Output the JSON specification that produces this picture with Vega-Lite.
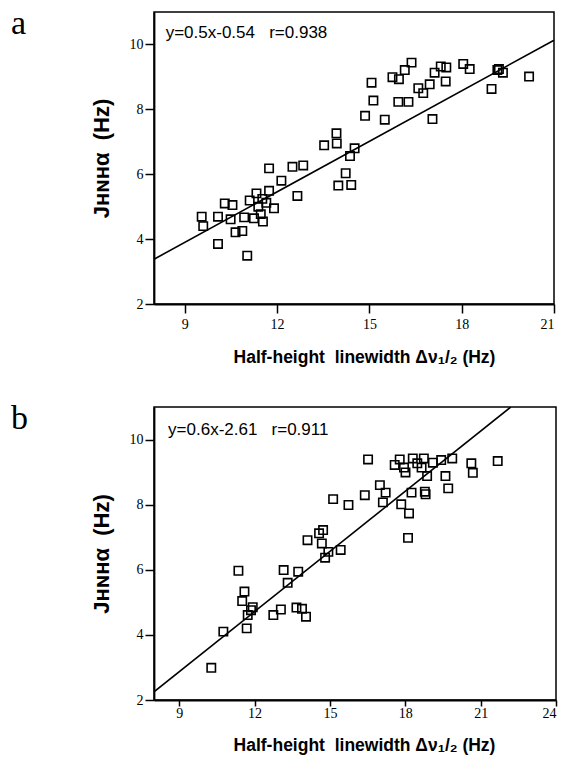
{
  "$schema": "https://vega.github.io/schema/vega-lite/v6.json",
  "background": "white",
  "padding": {"left": 10, "top": 6, "right": 5, "bottom": 0},
  "spacing": 34,
  "config": {
    "view": {"stroke": "black", "strokeWidth": 1.5},
    "axis": {
      "grid": false, "domainColor": "black", "domainWidth": 1.8,
      "tickColor": "black", "tickWidth": 1.5, "tickSize": 9,
      "labelFont": "Liberation Serif", "labelFontSize": 14, "labelColor": "black",
      "titleFont": "Liberation Sans", "titleFontWeight": "bold", "titleColor": "black"
    },
    "axisX": {"labelPadding": 4, "titleFontSize": 17.5, "titlePadding": 17},
    "axisY": {"labelPadding": 2, "titleFontSize": 22, "titlePadding": 16},
    "title": {
      "anchor": "start", "frame": "bounds", "font": "Liberation Serif",
      "fontSize": 34, "fontWeight": "normal", "color": "black",
      "offset": 0, "baseline": "alphabetic", "dx": -79, "dy": 33
    }
  },
  "datasets": {
    "a": [
      {"w": 9.55, "j": 4.69}, {"w": 9.60, "j": 4.40}, {"w": 10.08, "j": 4.69}, {"w": 10.08, "j": 3.85},
      {"w": 10.30, "j": 5.10}, {"w": 10.55, "j": 5.05}, {"w": 10.49, "j": 4.61}, {"w": 10.65, "j": 4.21},
      {"w": 10.87, "j": 4.25}, {"w": 10.93, "j": 4.67}, {"w": 11.03, "j": 3.49}, {"w": 11.11, "j": 5.19},
      {"w": 11.25, "j": 4.64}, {"w": 11.33, "j": 5.41}, {"w": 11.39, "j": 5.00}, {"w": 11.47, "j": 4.77},
      {"w": 11.54, "j": 4.54}, {"w": 11.52, "j": 5.24}, {"w": 11.65, "j": 5.12}, {"w": 11.74, "j": 5.49},
      {"w": 11.74, "j": 6.18}, {"w": 11.90, "j": 4.95}, {"w": 12.14, "j": 5.80}, {"w": 12.50, "j": 6.23},
      {"w": 12.66, "j": 5.33}, {"w": 12.85, "j": 6.27}, {"w": 13.53, "j": 6.89}, {"w": 13.93, "j": 7.26},
      {"w": 13.94, "j": 6.95}, {"w": 13.99, "j": 5.65}, {"w": 14.23, "j": 6.03}, {"w": 14.37, "j": 6.56},
      {"w": 14.41, "j": 5.67}, {"w": 14.52, "j": 6.80}, {"w": 14.86, "j": 7.80}, {"w": 15.07, "j": 8.82},
      {"w": 15.13, "j": 8.27}, {"w": 15.50, "j": 7.68}, {"w": 15.75, "j": 8.99}, {"w": 15.96, "j": 8.93},
      {"w": 15.94, "j": 8.23}, {"w": 16.27, "j": 8.23}, {"w": 16.15, "j": 9.21}, {"w": 16.37, "j": 9.44},
      {"w": 16.59, "j": 8.65}, {"w": 16.75, "j": 8.50}, {"w": 16.96, "j": 8.77}, {"w": 17.05, "j": 7.70},
      {"w": 17.12, "j": 9.13}, {"w": 17.32, "j": 9.32}, {"w": 17.50, "j": 9.29}, {"w": 17.48, "j": 8.86},
      {"w": 18.05, "j": 9.40}, {"w": 18.26, "j": 9.24}, {"w": 18.97, "j": 8.63}, {"w": 19.16, "j": 9.21},
      {"w": 19.21, "j": 9.24}, {"w": 19.34, "j": 9.13}, {"w": 20.19, "j": 9.01}
    ],
    "b": [
      {"w": 10.28, "j": 2.99}, {"w": 10.76, "j": 4.10}, {"w": 11.36, "j": 5.97}, {"w": 11.60, "j": 5.33},
      {"w": 11.51, "j": 5.04}, {"w": 11.73, "j": 4.61}, {"w": 11.69, "j": 4.20}, {"w": 11.93, "j": 4.85},
      {"w": 11.86, "j": 4.76}, {"w": 12.75, "j": 4.61}, {"w": 13.05, "j": 4.78}, {"w": 13.16, "j": 5.99},
      {"w": 13.32, "j": 5.60}, {"w": 13.74, "j": 5.94}, {"w": 13.67, "j": 4.84}, {"w": 13.89, "j": 4.80},
      {"w": 14.05, "j": 4.56}, {"w": 14.11, "j": 6.91}, {"w": 14.57, "j": 7.12}, {"w": 14.73, "j": 7.22},
      {"w": 14.68, "j": 6.81}, {"w": 14.81, "j": 6.37}, {"w": 14.94, "j": 6.55}, {"w": 15.43, "j": 6.61},
      {"w": 15.13, "j": 8.17}, {"w": 15.74, "j": 7.99}, {"w": 16.39, "j": 8.29}, {"w": 16.52, "j": 9.39},
      {"w": 16.99, "j": 8.60}, {"w": 17.22, "j": 8.37}, {"w": 17.11, "j": 8.07}, {"w": 17.58, "j": 9.22},
      {"w": 17.78, "j": 9.39}, {"w": 17.95, "j": 9.14}, {"w": 18.01, "j": 8.99}, {"w": 17.84, "j": 8.01},
      {"w": 18.15, "j": 7.73}, {"w": 18.11, "j": 6.98}, {"w": 18.25, "j": 8.37}, {"w": 18.30, "j": 9.42},
      {"w": 18.48, "j": 9.27}, {"w": 18.74, "j": 9.42}, {"w": 18.65, "j": 9.14}, {"w": 18.87, "j": 8.88},
      {"w": 18.81, "j": 8.32}, {"w": 18.78, "j": 8.40}, {"w": 19.10, "j": 9.29}, {"w": 19.43, "j": 9.37},
      {"w": 19.87, "j": 9.42}, {"w": 19.60, "j": 8.88}, {"w": 19.71, "j": 8.50}, {"w": 20.63, "j": 9.27},
      {"w": 20.69, "j": 8.98}, {"w": 21.68, "j": 9.34}
    ],
    "la": [{"w": 8, "j": 3.38}, {"w": 21, "j": 10.13}],
    "lb": [{"w": 8, "j": 2.25}, {"w": 22.2, "j": 11.0}],
    "ta": [{"w": 8.38, "j": 10.2, "label": "y=0.5x-0.54\u00a0\u00a0 r=0.938"}],
    "tb": [{"w": 8.56, "j": 10.14, "label": "y=0.6x-2.61\u00a0\u00a0 r=0.911"}]
  },
  "vconcat": [
    {
      "width": 400, "height": 292,
      "title": {"text": "a"},
      "layer": [
        {
          "data": {"name": "a"},
          "mark": {"type": "point", "shape": "square", "filled": false, "stroke": "black", "strokeWidth": 1.6, "size": 70, "opacity": 1},
          "encoding": {
            "x": {"field": "w", "type": "quantitative", "scale": {"domain": [8, 21], "nice": false, "zero": false},
                  "axis": {"values": [9, 12, 15, 18, 21], "title": "Half-height\u00a0\u00a0linewidth Δν₁/₂ (Hz)", "titleX": 210}},
            "y": {"field": "j", "type": "quantitative", "scale": {"domain": [2, 11], "nice": false, "zero": false},
                  "axis": {"values": [2, 4, 6, 8, 10], "title": "Jʜɴʜα\u00a0\u00a0(Hz)"}}
          }
        },
        {
          "data": {"name": "la"},
          "mark": {"type": "line", "color": "black", "strokeWidth": 1.6},
          "encoding": {"x": {"field": "w", "type": "quantitative"}, "y": {"field": "j", "type": "quantitative"}}
        },
        {
          "data": {"name": "ta"},
          "mark": {"type": "text", "align": "left", "baseline": "alphabetic", "font": "Liberation Sans", "fontSize": 17, "color": "black"},
          "encoding": {"x": {"field": "w", "type": "quantitative"}, "y": {"field": "j", "type": "quantitative"}, "text": {"field": "label"}}
        }
      ]
    },
    {
      "width": 402, "height": 293,
      "title": {"text": "b"},
      "layer": [
        {
          "data": {"name": "b"},
          "mark": {"type": "point", "shape": "square", "filled": false, "stroke": "black", "strokeWidth": 1.6, "size": 70, "opacity": 1},
          "encoding": {
            "x": {"field": "w", "type": "quantitative", "scale": {"domain": [8, 24], "nice": false, "zero": false},
                  "axis": {"values": [9, 12, 15, 18, 21, 24], "title": "Half-height\u00a0\u00a0linewidth Δν₁/₂ (Hz)", "titleX": 210,
                           "tickSize": 6, "labelPadding": 0, "titlePadding": 16}},
            "y": {"field": "j", "type": "quantitative", "scale": {"domain": [2, 11], "nice": false, "zero": false},
                  "axis": {"values": [2, 4, 6, 8, 10], "title": "Jʜɴʜα\u00a0\u00a0(Hz)"}}
          }
        },
        {
          "data": {"name": "lb"},
          "mark": {"type": "line", "color": "black", "strokeWidth": 1.6, "clip": true},
          "encoding": {"x": {"field": "w", "type": "quantitative"}, "y": {"field": "j", "type": "quantitative"}}
        },
        {
          "data": {"name": "tb"},
          "mark": {"type": "text", "align": "left", "baseline": "alphabetic", "font": "Liberation Sans", "fontSize": 17, "color": "black"},
          "encoding": {"x": {"field": "w", "type": "quantitative"}, "y": {"field": "j", "type": "quantitative"}, "text": {"field": "label"}}
        }
      ]
    }
  ]
}
